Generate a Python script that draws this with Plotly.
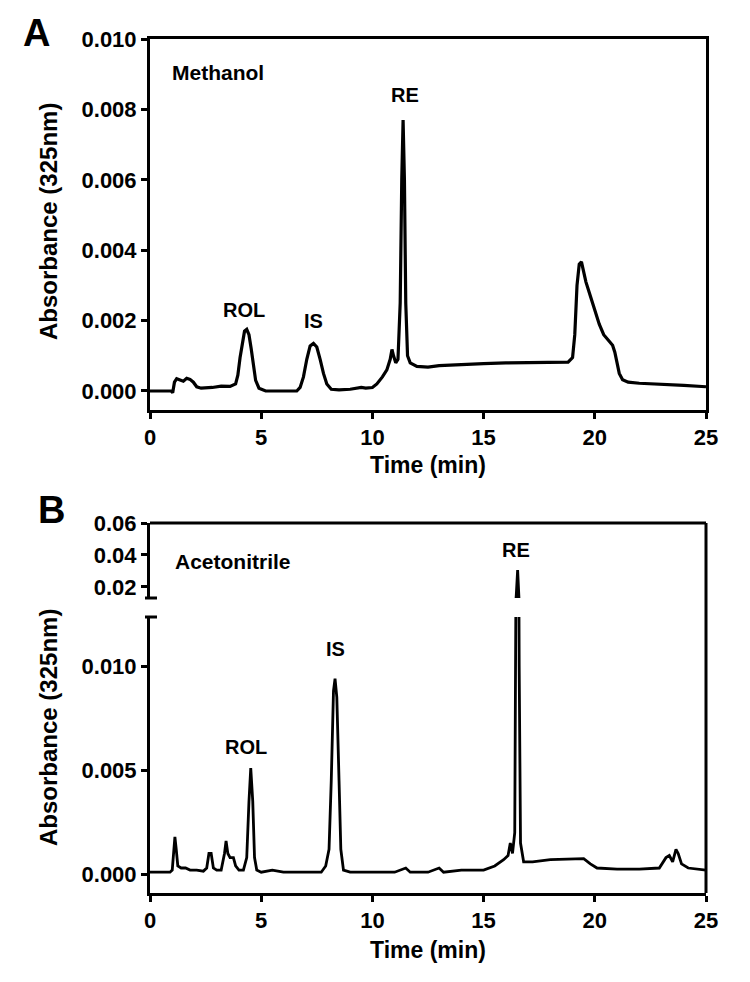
import plotly.graph_objects as go

# ---------------- data ----------------
# Panel A (Methanol)
time_a = [0.0, 0.5, 0.95, 1.02, 1.1, 1.2, 1.35, 1.5, 1.65, 1.8, 1.95, 2.1, 2.3, 2.8, 3.2, 3.6, 3.85,
          3.95, 4.05, 4.15, 4.25, 4.35, 4.45, 4.55, 4.65, 4.75, 4.9, 5.2, 6.0, 6.6, 6.75, 6.9, 7.05,
          7.2, 7.35, 7.5, 7.65, 7.8, 7.95, 8.15, 8.5, 9.0, 9.5, 9.7, 10.0, 10.2, 10.45, 10.65, 10.8,
          10.88, 10.95, 11.05, 11.15, 11.25, 11.32, 11.38, 11.44, 11.5, 11.58, 11.7, 12.0, 12.5,
          13.0, 14.0, 15.0, 16.0, 17.0, 18.0, 18.8, 19.0, 19.1, 19.2, 19.3, 19.4, 19.5, 19.6, 19.8,
          20.0, 20.2, 20.4, 20.6, 20.8, 20.9, 21.0, 21.1, 21.25, 21.5, 22.0, 23.0, 24.0, 25.0]
abs_a = [0.0, 0.0, 0.0, -0.00005, 0.00025, 0.00035, 0.00032, 0.00028, 0.00036, 0.00033, 0.00025,
         0.00012, 0.00008, 0.0001, 0.00014, 0.00013, 0.0002, 0.00045, 0.00095, 0.0014, 0.0017,
         0.00175, 0.0016, 0.0012, 0.0007, 0.0003, 0.00008, 0.0, 0.0, 0.0, 0.0001, 0.0004, 0.0009,
         0.00128, 0.00135, 0.00125, 0.0009, 0.0005, 0.0002, 0.00005, 0.00003, 0.00005, 0.0001,
         0.00008, 0.0001, 0.0002, 0.0004, 0.0006, 0.0009, 0.00118, 0.001, 0.0008, 0.0009, 0.0025,
         0.006, 0.0077, 0.006, 0.0025, 0.001, 0.0008, 0.0007, 0.00068, 0.00072, 0.00076, 0.00078,
         0.0008, 0.0008, 0.00081, 0.00082, 0.00095, 0.0016, 0.003, 0.0036, 0.00367, 0.0034, 0.0031,
         0.0027, 0.0023, 0.0019, 0.0016, 0.00145, 0.0013, 0.0011, 0.0008, 0.0005, 0.00032, 0.00025,
         0.00022, 0.0002, 0.00016, 0.00012]

# Panel B (Acetonitrile)
time_b = [0.0, 0.9, 1.0, 1.08, 1.12, 1.18, 1.25, 1.4, 1.6, 1.8, 2.1, 2.4, 2.55, 2.65, 2.75, 2.85,
          3.0, 3.2, 3.35, 3.42, 3.5, 3.6, 3.75, 3.85, 4.0, 4.2, 4.35, 4.45, 4.53, 4.62, 4.7, 4.8,
          5.0, 5.5, 6.0, 7.0, 7.7, 7.9, 8.05, 8.15, 8.25, 8.32, 8.4, 8.5, 8.58, 8.7, 9.0, 10.0,
          11.0, 11.5, 11.7, 12.5, 13.0, 13.2, 14.0, 15.0, 15.5, 15.9, 16.1, 16.2, 16.3, 16.4,
          16.47, 16.53, 16.6, 16.66, 16.8, 17.2, 18.0, 19.0, 19.5, 19.8, 20.1, 21.0, 22.0, 22.9,
          23.2, 23.35, 23.5, 23.65, 23.75, 23.9, 24.2, 25.0]
abs_b = [0.0001, 0.0001, 0.0002, 0.0012, 0.0018, 0.0012, 0.0004, 0.0003, 0.0003, 0.0002, 0.0002,
         0.00015, 0.0003, 0.001, 0.001, 0.0003, 0.0002, 0.0002, 0.001, 0.0016, 0.001, 0.0008,
         0.0008, 0.0004, 0.0002, 0.0002, 0.0008, 0.0035, 0.0051, 0.0035, 0.0008, 0.0002, 0.0001,
         0.0002, 0.0001, 0.0001, 0.0001, 0.0004, 0.0012, 0.0045, 0.0088, 0.0094, 0.0085, 0.0045,
         0.0012, 0.0002, 0.0001, 0.0001, 0.0001, 0.0003, 0.0001, 0.0001, 0.0003, 0.0001, 0.0002,
         0.0002, 0.0004, 0.0007, 0.0009, 0.0015, 0.001, 0.002, 0.015, 0.0306, 0.01, 0.0015,
         0.0006, 0.0006, 0.0007, 0.00075, 0.00075, 0.0005, 0.0003, 0.00025, 0.00025, 0.0003,
         0.0008, 0.0009, 0.0006, 0.0012, 0.001, 0.0005, 0.0003, 0.0002]

x_ticks = [0, 5, 10, 15, 20, 25]
ya_ticks = [0.0, 0.002, 0.004, 0.006, 0.008, 0.010]
ya_text = ["0.000", "0.002", "0.004", "0.006", "0.008", "0.010"]
yb_upper_ticks = [0.02, 0.04, 0.06]
yb_upper_text = ["0.02", "0.04", "0.06"]
yb_lower_ticks = [0.0, 0.005, 0.010]
yb_lower_text = ["0.000", "0.005", "0.010"]

# peak labels: (text, time, absorbance)
labels_a = [("ROL", 4.23, 0.0023), ("IS", 7.35, 0.0020), ("RE", 11.45, 0.0084)]
labels_b_lower = [("ROL", 4.33, 0.0061), ("IS", 8.36, 0.0108)]
labels_b_upper = [("RE", 16.46, 0.0431)]

# ---------------- layout helpers ----------------
W, H = 750, 982
FONT = "Liberation Sans, Arial, sans-serif"
X0, X1 = 150, 706


def px(x):
    return x / W


def py(y):
    return 1 - y / H


fig = go.Figure()
fig.add_trace(go.Scatter(x=time_a, y=abs_a, mode="lines", line=dict(color="black", width=3.2),
                         xaxis="x", yaxis="y", showlegend=False))
fig.add_trace(go.Scatter(x=time_b, y=abs_b, mode="lines", line=dict(color="black", width=2.8),
                         xaxis="x2", yaxis="y2", showlegend=False))
fig.add_trace(go.Scatter(x=time_b, y=abs_b, mode="lines", line=dict(color="black", width=2.8),
                         xaxis="x2", yaxis="y3", showlegend=False))

tickfont = dict(family=FONT, size=22, color="black", weight="bold")
axis_common = dict(showline=True, linecolor="black", linewidth=3, ticks="outside", ticklen=6,
                   tickwidth=3, tickcolor="black", showgrid=False, zeroline=False,
                   tickfont=tickfont, automargin=False)

fig.update_layout(
    width=W, height=H, margin=dict(l=0, r=0, t=0, b=0),
    paper_bgcolor="white", plot_bgcolor="white",
    xaxis=dict(domain=[px(X0), px(X1)], range=[0, 25], anchor="y", mirror=True,
               tickvals=x_ticks, **axis_common),
    yaxis=dict(domain=[py(410), py(39)], range=[-0.00054, 0.010], anchor="x", mirror=True,
               tickvals=ya_ticks, ticktext=ya_text, **axis_common),
    xaxis2=dict(domain=[px(X0), px(X1)], range=[0, 25], anchor="y3",
                tickvals=x_ticks, **axis_common),
    yaxis2=dict(domain=[py(598), py(523)], range=[0.0131, 0.06], anchor="x2",
                tickvals=yb_upper_ticks, ticktext=yb_upper_text, **axis_common),
    yaxis3=dict(domain=[py(893), py(617)], range=[-0.0009, 0.01236], anchor="x2",
                tickvals=yb_lower_ticks, ticktext=yb_lower_text, **axis_common),
)

shapes = [
    # panel B frame (top and right) and broken-axis caps
    dict(type="line", xref="paper", yref="paper", x0=px(X0), x1=px(X1), y0=py(523), y1=py(523),
         line=dict(color="black", width=3)),
    dict(type="line", xref="paper", yref="paper", x0=px(X1), x1=px(X1), y0=py(523), y1=py(893),
         line=dict(color="black", width=3)),
    dict(type="line", xref="paper", yref="paper", x0=px(145), x1=px(157), y0=py(598), y1=py(598),
         line=dict(color="black", width=3)),
    dict(type="line", xref="paper", yref="paper", x0=px(145), x1=px(157), y0=py(617), y1=py(617),
         line=dict(color="black", width=3)),
]
fig.update_layout(shapes=shapes)

peakfont = dict(family=FONT, size=20, color="black", weight="bold")
solvfont = dict(family=FONT, size=21, color="black", weight="bold")
titlefont = dict(family=FONT, size=23, color="black", weight="bold")
ytitlefont = dict(family=FONT, size=24, color="black", weight="bold")
letterfont = dict(family=FONT, size=38, color="black", weight="bold")
anns = []
for t, x, y in labels_a:
    anns.append(dict(text=t, x=x, y=y, xref="x", yref="y", showarrow=False, font=peakfont,
                     xanchor="center", yanchor="middle"))
for t, x, y in labels_b_lower:
    anns.append(dict(text=t, x=x, y=y, xref="x2", yref="y3", showarrow=False, font=peakfont,
                     xanchor="center", yanchor="middle"))
for t, x, y in labels_b_upper:
    anns.append(dict(text=t, x=x, y=y, xref="x2", yref="y2", showarrow=False, font=peakfont,
                     xanchor="center", yanchor="middle"))

paper = dict(xref="paper", yref="paper", showarrow=False, yanchor="middle")
anns += [
    dict(text="Methanol", x=px(170), y=py(72), xanchor="left", font=solvfont, **paper),
    dict(text="Acetonitrile", x=px(173), y=py(561), xanchor="left", font=solvfont, **paper),
    dict(text="A", x=px(36), y=py(33), xanchor="center", font=letterfont, **paper),
    dict(text="B", x=px(51), y=py(510), xanchor="center", font=letterfont, **paper),
    dict(text="Absorbance (325nm)", x=px(48), y=py(222), xanchor="center", textangle=-90,
         font=ytitlefont, **paper),
    dict(text="Absorbance (325nm)", x=px(48), y=py(728), xanchor="center", textangle=-90,
         font=ytitlefont, **paper),
    dict(text="Time (min)", x=px(428), y=py(465), xanchor="center", font=titlefont, **paper),
    dict(text="Time (min)", x=px(428), y=py(950), xanchor="center", font=titlefont, **paper),
]
fig.update_layout(annotations=anns)

fig.write_html("out.html", config={"displayModeBar": False},
               post_script="document.body.style.margin='0';")
